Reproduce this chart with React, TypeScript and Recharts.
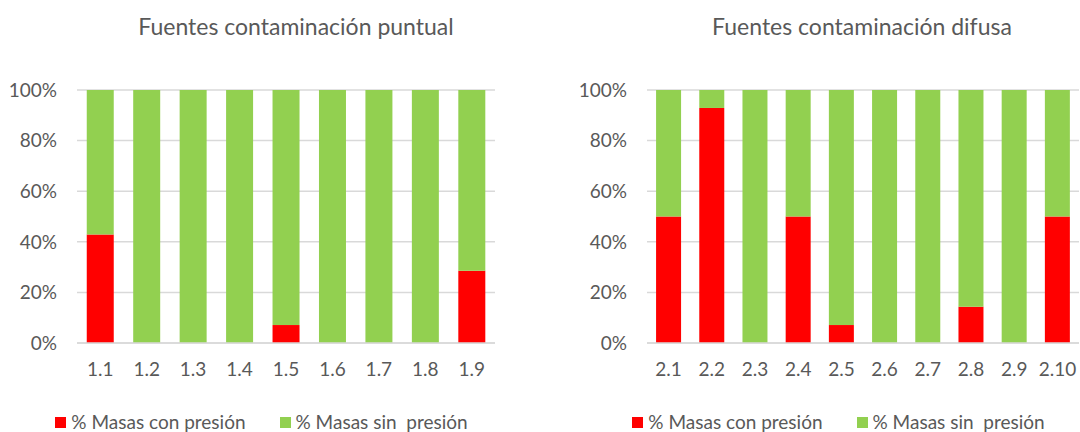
import React from 'react';
import { BarChart, Bar, XAxis, YAxis, CartesianGrid, Legend } from 'recharts';

const puntualCats = ['1.1', '1.2', '1.3', '1.4', '1.5', '1.6', '1.7', '1.8', '1.9'];
const puntualCon = [42.9, 0, 0, 0, 7.1, 0, 0, 0, 28.6];
const puntualSin = [57.1, 100, 100, 100, 92.9, 100, 100, 100, 71.4];

const difusaCats = ['2.1', '2.2', '2.3', '2.4', '2.5', '2.6', '2.7', '2.8', '2.9', '2.10'];
const difusaCon = [50, 92.9, 0, 50, 7.1, 0, 0, 14.3, 0, 50];
const difusaSin = [50, 7.1, 100, 50, 92.9, 100, 100, 85.7, 100, 50];

const yTicks = [0, 20, 40, 60, 80, 100];

const RED = '#ff0000';
const GREEN = '#92d050';
const TEXT = '#595959';
const GRID = '#d9d9d9';
const FONT = 'Lato, "Noto Sans", sans-serif';

const build = (cats: string[], con: number[], sin: number[]) =>
  cats.map((c, i) => ({ cat: c, con: con[i], sin: sin[i] }));

function LegendBox() {
  const item = (color: string, label: string) => (
    <span style={{ display: 'inline-flex', alignItems: 'center', gap: 5 }}>
      <span style={{ width: 11, height: 11, background: color, display: 'inline-block' }} />
      <span style={{ whiteSpace: 'pre' }}>{label}</span>
    </span>
  );
  return (
    <div style={{ display: 'flex', justifyContent: 'center', gap: 34, paddingLeft: 28, fontFamily: FONT, fontSize: 19, color: TEXT, lineHeight: '20px' }}>
      {item(RED, '% Masas con presión')}
      {item(GREEN, '% Masas sin  presión')}
    </div>
  );
}

function Panel({ title, titleCenter, data, width, right }: { title: string; titleCenter: number; data: any[]; width: number; right: number }) {
  return (
    <div style={{ position: 'relative', width, height: 432 }}>
      <div style={{ position: 'absolute', top: 12, left: 0, width: titleCenter * 2, textAlign: 'center', fontFamily: FONT, fontSize: 23, color: TEXT, whiteSpace: 'nowrap' }}>
        {title}
      </div>
      <BarChart width={width} height={432} data={data} margin={{ top: 90, right, bottom: 0, left: 0 }} barCategoryGap="21%">
        <CartesianGrid vertical={false} stroke={GRID} strokeWidth={1.5} />
        <XAxis dataKey="cat" height={69} tickLine={false} axisLine={{ stroke: GRID, strokeWidth: 1.5 }} tickSize={0} tickMargin={20}
          tick={{ fontSize: 19, fill: TEXT, fontFamily: FONT }} interval={0} />
        <YAxis width={77} domain={[0, 100]} ticks={yTicks} tickFormatter={(v) => `${v}%`} axisLine={false} tickLine={false}
          tickSize={0} tickMargin={20} tick={{ fontSize: 19, fill: TEXT, fontFamily: FONT }} />
        <Legend verticalAlign="bottom" height={20} content={() => <LegendBox />} />
        <Bar dataKey="con" stackId="a" fill={RED} isAnimationActive={false} />
        <Bar dataKey="sin" stackId="a" fill={GREEN} isAnimationActive={false} />
      </BarChart>
    </div>
  );
}

export default function App() {
  return (
    <div style={{ position: 'absolute', left: 0, top: 0, width: 1080, height: 432, background: '#fff', display: 'flex', overflow: 'hidden' }}>
      <div style={{ width: 570 }}>
        <Panel title="Fuentes contaminación puntual" titleCenter={296} data={build(puntualCats, puntualCon, puntualSin)} width={540} right={45} />
      </div>
      <Panel title="Fuentes contaminación difusa" titleCenter={292} data={build(difusaCats, difusaCon, difusaSin)} width={510} right={1} />
    </div>
  );
}
